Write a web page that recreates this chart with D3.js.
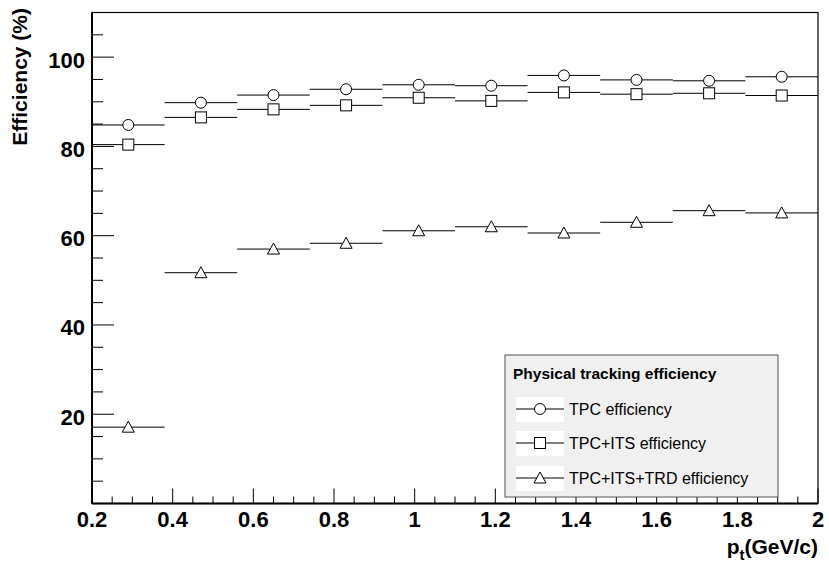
<!DOCTYPE html>
<html>
<head>
<meta charset="utf-8">
<script src="https://cdn.jsdelivr.net/npm/d3@7"></script>
<style>
body { margin: 0; background: #fff; }
text { font-family: "Liberation Sans", Arial, sans-serif; }
</style>
</head>
<body>
<svg id="chart"></svg>
<script>
// bin edges in pt (GeV/c)
var binEdges = [0.2, 0.38, 0.56, 0.74, 0.92, 1.1, 1.28, 1.46, 1.64, 1.82, 2.0];
var tpcEff = [84.8, 89.8, 91.5, 92.8, 93.8, 93.6, 95.9, 94.9, 94.7, 95.6];
var tpcItsEff = [80.4, 86.5, 88.3, 89.2, 90.9, 90.2, 92.1, 91.7, 91.9, 91.4];
var tpcItsTrdEff = [17.1, 51.7, 57.0, 58.3, 61.1, 62.0, 60.6, 63.0, 65.6, 65.1];
var seriesNames = ["TPC efficiency", "TPC+ITS efficiency", "TPC+ITS+TRD efficiency"];
var xTicks = [0.2, 0.4, 0.6, 0.8, 1, 1.2, 1.4, 1.6, 1.8, 2];
var yTicks = [20, 40, 60, 80, 100];

var width = 829, height = 570;
var pLeft = 92, pRight = 818, pTop = 12.5, pBottom = 503.5;

var svg = d3.select("#chart").attr("width", width).attr("height", height);

var x = d3.scaleLinear().domain([0.2, 2]).range([pLeft, pRight]);
var y = d3.scaleLinear().domain([0, 110]).range([pBottom, pTop]);

var series = [
  { name: seriesNames[0], values: tpcEff, marker: "circle" },
  { name: seriesNames[1], values: tpcItsEff, marker: "square" },
  { name: seriesNames[2], values: tpcItsTrdEff, marker: "triangle" }
];

function drawMarker(g, type, cx, cy) {
  if (type == "circle") {
    g.append("circle").attr("cx", cx).attr("cy", cy).attr("r", 5.5)
      .attr("fill", "#fff").attr("stroke", "#000").attr("stroke-width", 1);
  } else if (type == "square") {
    g.append("rect").attr("x", cx - 5.5).attr("y", cy - 5.5).attr("width", 11).attr("height", 11)
      .attr("fill", "#fff").attr("stroke", "#000").attr("stroke-width", 1);
  } else {
    g.append("path")
      .attr("d", "M" + cx + "," + (cy - 6) + "L" + (cx + 6) + "," + (cy + 5) + "L" + (cx - 6) + "," + (cy + 5) + "Z")
      .attr("fill", "#fff").attr("stroke", "#000").attr("stroke-width", 1);
  }
}

// data: horizontal bin bars with marker at center
var plot = svg.append("g");
series.forEach(function(s) {
  s.values.forEach(function(v, i) {
    var x0 = x(binEdges[i]), x1 = x(binEdges[i + 1]);
    plot.append("line").attr("x1", x0).attr("x2", x1)
      .attr("y1", y(v)).attr("y2", y(v))
      .attr("stroke", "#000").attr("stroke-width", 1);
    drawMarker(plot, s.marker, (x0 + x1) / 2, y(v));
  });
});

// frame
svg.append("rect").attr("x", pLeft).attr("y", pTop)
  .attr("width", pRight - pLeft).attr("height", pBottom - pTop)
  .attr("fill", "none").attr("stroke", "#000").attr("stroke-width", 1.2);

// x axis
var xAxis = svg.append("g");
d3.range(0.2, 2.0001, 0.05).forEach(function(t) {
  var major = Math.abs(t * 5 - Math.round(t * 5)) < 1e-6;
  xAxis.append("line").attr("x1", x(t)).attr("x2", x(t))
    .attr("y1", pBottom).attr("y2", pBottom - (major ? 15 : 7))
    .attr("stroke", "#000").attr("stroke-width", 1);
});
xAxis.append("line").attr("x1", pLeft).attr("x2", pRight).attr("y1", pBottom).attr("y2", pBottom)
  .attr("stroke", "#000").attr("stroke-width", 2);
xAxis.selectAll(".xl").data(xTicks).enter().append("text")
  .attr("x", function(d) { return x(d); }).attr("y", 527)
  .attr("text-anchor", "middle").attr("font-size", 22).attr("font-weight", "bold")
  .text(function(d) { return d; });

// y axis
var yAxis = svg.append("g");
d3.range(5, 106, 5).forEach(function(t) {
  var major = t % 20 == 0;
  yAxis.append("line").attr("x1", pLeft).attr("x2", pLeft + (major ? 22 : 11))
    .attr("y1", y(t)).attr("y2", y(t))
    .attr("stroke", "#000").attr("stroke-width", 1);
});
yAxis.append("line").attr("x1", pLeft).attr("x2", pLeft).attr("y1", pTop).attr("y2", pBottom)
  .attr("stroke", "#000").attr("stroke-width", 2);
yAxis.selectAll(".yl").data(yTicks).enter().append("text")
  .attr("x", 85).attr("y", function(d) { return y(d) + 10.5; })
  .attr("text-anchor", "end").attr("font-size", 22).attr("font-weight", "bold")
  .text(function(d) { return d; });

// axis titles
svg.append("text")
  .attr("transform", "translate(27,8) rotate(-90)")
  .attr("text-anchor", "end").attr("font-size", 21).attr("font-weight", "bold")
  .text("Efficiency (%)");

var xt = svg.append("text").attr("x", 818).attr("y", 554)
  .attr("text-anchor", "end").attr("font-size", 21).attr("font-weight", "bold");
xt.append("tspan").text("p");
xt.append("tspan").attr("font-size", 15).attr("dy", 6).text("t");
xt.append("tspan").attr("dy", -6).text("(GeV/c)");

// legend
var lg = svg.append("g");
lg.append("rect").attr("x", 505).attr("y", 355).attr("width", 273).attr("height", 142)
  .attr("fill", "#f0f0f0").attr("stroke", "#555").attr("stroke-width", 1);
lg.append("text").attr("x", 513).attr("y", 379)
  .attr("font-size", 15.5).attr("font-weight", "bold")
  .text("Physical tracking efficiency");
var entryY = [409, 443, 478];
series.forEach(function(s, i) {
  var cy = entryY[i];
  lg.append("rect").attr("x", 516).attr("y", cy - 12).attr("width", 48).attr("height", 25).attr("fill", "#fff");
  lg.append("line").attr("x1", 516).attr("x2", 564).attr("y1", cy).attr("y2", cy)
    .attr("stroke", "#000").attr("stroke-width", 1);
  drawMarker(lg, s.marker, 540, cy);
  lg.append("text").attr("x", 569).attr("y", cy + 5.5)
    .attr("font-size", 16).text(s.name);
});
</script>
</body>
</html>
